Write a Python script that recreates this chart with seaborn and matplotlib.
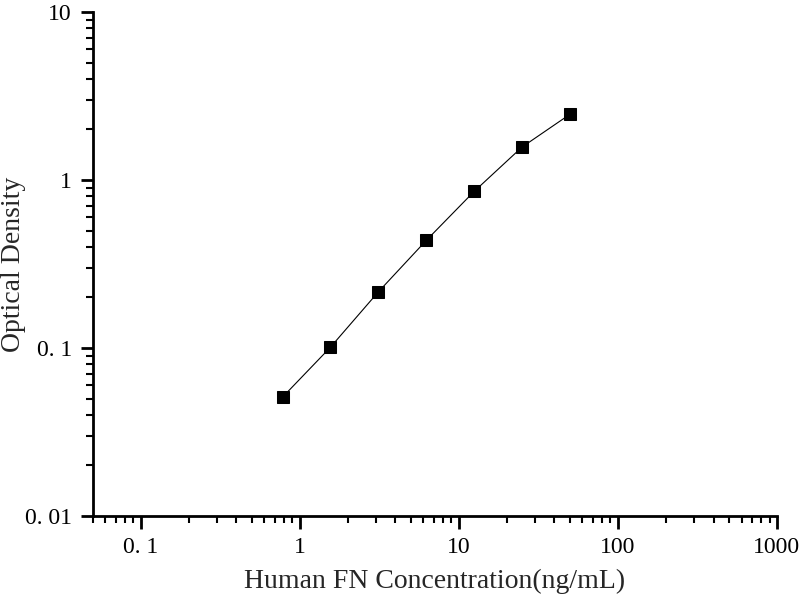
import numpy as np
import pandas as pd
import matplotlib
matplotlib.use('Agg')
import matplotlib.pyplot as plt
import matplotlib.ticker as mticker
import seaborn as sns

# standard curve values
concentration = [0.78, 1.56, 3.125, 6.25, 12.5, 25, 50]
optical_density = [0.051, 0.101, 0.216, 0.437, 0.855, 1.57, 2.46]

x_ticks = [0.1, 1, 10, 100, 1000]
x_tick_labels = ['0. 1', '1', '10', '100', '1000']
y_ticks = [0.01, 0.1, 1, 10]
y_tick_labels = ['0. 01', '0. 1', '1', '10']

df = pd.DataFrame({'conc': concentration, 'od': optical_density})

sns.set_style('ticks')
plt.rcParams['font.family'] = ['Liberation Serif', 'DejaVu Serif']

fig = plt.figure(figsize=(8, 6), dpi=100)
ax = fig.add_axes([0.116, 0.14, 0.855, 0.84])

sns.lineplot(data=df, x='conc', y='od', ax=ax, color='black', linewidth=0.8,
             marker='s', markersize=9, markeredgecolor='black',
             markerfacecolor='black')

ax.set_xscale('log')
ax.set_yscale('log')
ax.set_xlim(0.05, 1000)
ax.set_ylim(0.01, 10)

ax.set_xticks(x_ticks)
ax.set_xticklabels(x_tick_labels)
ax.set_yticks(y_ticks)
ax.set_yticklabels(y_tick_labels)
ax.xaxis.set_minor_locator(mticker.LogLocator(base=10, subs=np.arange(2, 10)))
ax.yaxis.set_minor_locator(mticker.LogLocator(base=10, subs=np.arange(2, 10)))
ax.xaxis.set_minor_formatter(mticker.NullFormatter())
ax.yaxis.set_minor_formatter(mticker.NullFormatter())

ax.tick_params(which='major', direction='out', length=9, width=2,
               labelsize=17, colors='black', pad=6)
ax.tick_params(which='minor', direction='out', length=5, width=1.5,
               colors='black')

for side in ['top', 'right']:
    ax.spines[side].set_visible(False)
for side in ['left', 'bottom']:
    ax.spines[side].set_linewidth(2)
    ax.spines[side].set_color('black')

ax.set_xlabel('Human FN Concentration(ng/mL)', fontsize=20)
ax.set_ylabel('Optical Density', fontsize=20)
ax.xaxis.set_label_coords(0.5, -0.105)
ax.yaxis.set_label_coords(-0.098, 0.5)

fig.savefig('out.png', dpi=100)
